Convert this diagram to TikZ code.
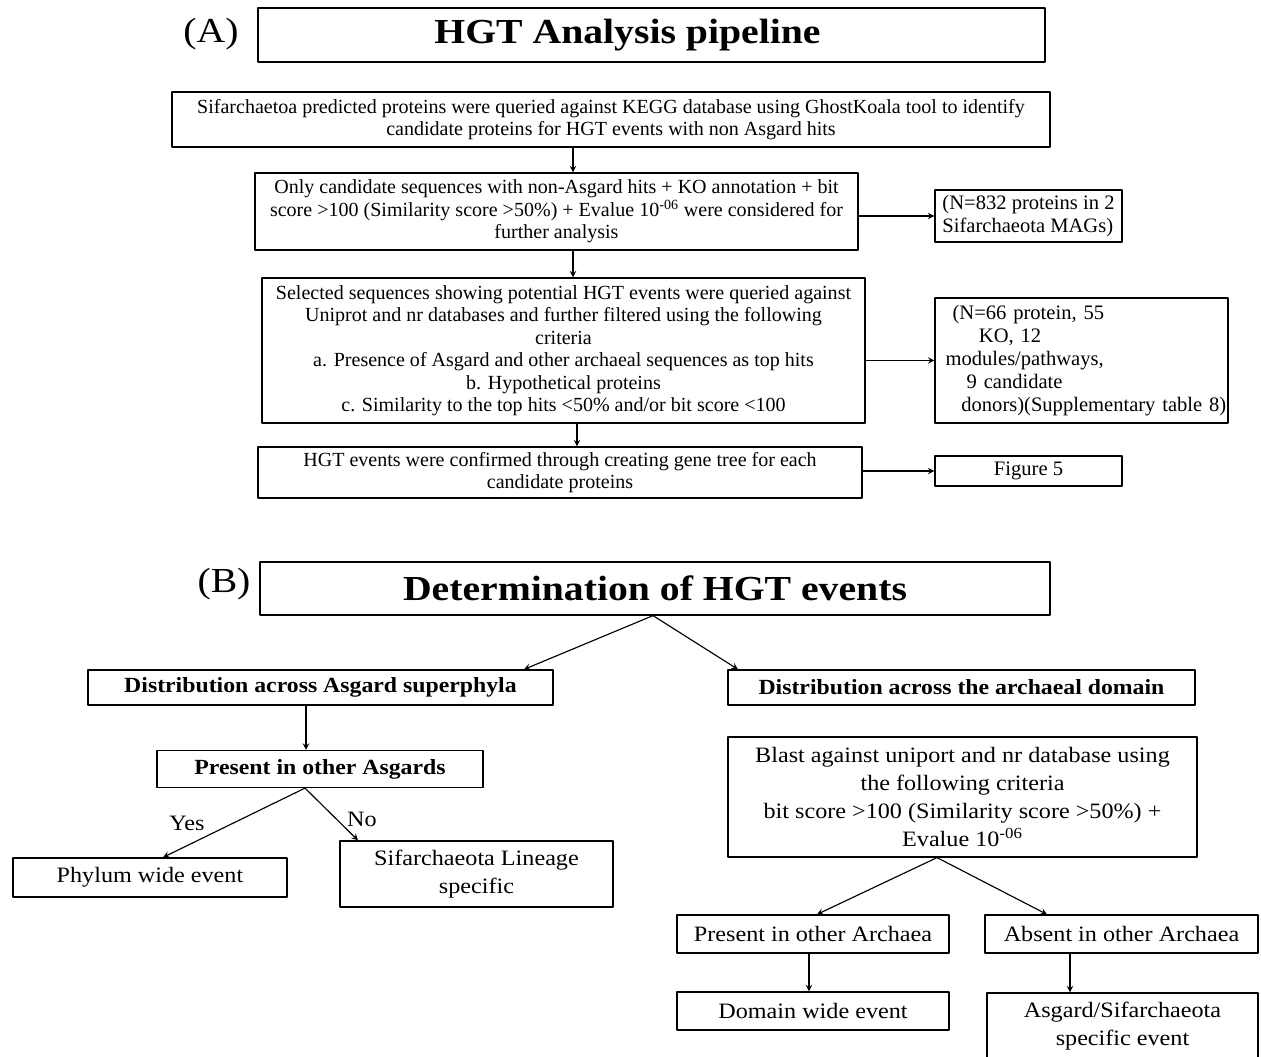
\documentclass[tikz,border=0pt]{standalone}
\usepackage{fontspec}
\setmainfont{Liberation Serif}
\newfontfamily\widefont[FakeStretch=1.1]{Liberation Serif}
\newfontfamily\titlefont[FakeStretch=1.13]{Liberation Serif}
\tikzset{
	box/.style={draw, line width=0.7pt, inner sep=2pt, align=center},
	smalltxt/.style={font=\fontsize{11.4}{12.8}\selectfont},
	sidetxt/.style={font=\fontsize{11.7}{13.2}\selectfont},
	bigtxt/.style={font=\widefont\fontsize{12.5}{15.9}\selectfont},
	boldtxt/.style={font=\widefont\bfseries\fontsize{12.3}{15}\selectfont},
	headtxt/.style={font=\titlefont\bfseries\fontsize{20}{24}\selectfont},
	link/.style={->, line width=0.65pt}
}
\begin{document}
\begin{tikzpicture}[x=0.02cm, y=-0.02cm, line join=round, >=stealth]
			\def\u{0.02cm}
			\useasboundingbox (0,0) rectangle (1261,1057);
			% (A) pipeline
			\node[font=\titlefont\fontsize{20}{24}\selectfont] (labA) at (211,34) {(A)};
			\node[box, headtxt, minimum width=787*\u, minimum height=54*\u] (titleA) at (651.5,35) {HGT Analysis pipeline\hspace*{0.96cm}};
			\node[box, smalltxt, minimum width=878*\u, minimum height=55*\u] (box1) at (611,119.5) {Sifarchaetoa predicted proteins were queried against KEGG database using GhostKoala tool to identify\\ candidate proteins for HGT events with non Asgard hits};
			\node[box, smalltxt, minimum width=603*\u, minimum height=77*\u] (box2) at (556.5,211.5) {Only candidate sequences with non-Asgard hits + KO annotation + bit\\ score >100 (Similarity score >50\%) + Evalue 10\textsuperscript{-06} were considered for\\ further analysis};
			\node[box, sidetxt, align=left, minimum width=187*\u, minimum height=52*\u] (n832) at (1028.5,216) {(N=832 proteins in 2\\ Sifarchaeota MAGs)};
			\node[box, smalltxt, minimum width=603*\u, minimum height=145*\u] (box3) at (563.5,350.5) {Selected sequences showing potential HGT events were queried against\\ Uniprot and nr databases and further filtered using the following\\ criteria\\ a. Presence of Asgard and other archaeal sequences as top hits\\ b. Hypothetical proteins\\ c. Similarity to the top hits <50\% and/or bit score <100};
			\node[box, sidetxt, align=left, inner xsep=0pt, text width=5.86cm, minimum height=125*\u] (n66) at (1081.5,360.5) {\hspace*{10pt}(N=66 protein, 55\\ \hspace*{25pt}KO, 12\\ \hspace*{6pt}modules/pathways,\\ \hspace*{18pt}9 candidate\\ \hspace*{15pt}donors)(Supplementary table 8)};
			\node[box, smalltxt, minimum width=604*\u, minimum height=51*\u] (box4) at (560,472.5) {HGT events were confirmed through creating gene tree for each\\ candidate proteins};
			\node[box, sidetxt, minimum width=187*\u, minimum height=30*\u] (fig5) at (1028.5,471) {Figure 5};
			\draw[link] (573,0 |- box1.south) -- (573,0 |- box2.north);
			\draw[link] (box2.east |- n832.west) -- (n832.west);
			\draw[link] (573,0 |- box2.south) -- (573,0 |- box3.north);
			\draw[link] (box3.east |- n66.west) -- (n66.west);
			\draw[link] (577,0 |- box3.south) -- (577,0 |- box4.north);
			\draw[link] (box4.east |- fig5.west) -- (fig5.west);
			% (B) determination
			\node[font=\titlefont\fontsize{20}{24}\selectfont] (labB) at (224,584) {(B)};
			\node[box, headtxt, minimum width=790*\u, minimum height=53*\u] (titleB) at (655,588.5) {Determination of HGT events};
			\node[box, boldtxt, minimum width=465*\u, minimum height=35*\u] (asgard) at (320.5,687.5) {Distribution across Asgard superphyla};
			\node[box, boldtxt, minimum width=467*\u, minimum height=35*\u] (archaeal) at (961.5,687.5) {Distribution across the archaeal domain};
			\node[box, boldtxt, minimum width=326*\u, minimum height=37*\u] (presAsg) at (320,769) {Present in other Asgards};
			\node[box, bigtxt, minimum width=274*\u, minimum height=39*\u] (phylum) at (150,877.5) {Phylum wide event};
			\node[box, bigtxt, minimum width=273*\u, minimum height=66*\u] (lineage) at (476.5,874) {Sifarchaeota Lineage\\ specific};
			\node[bigtxt] (yes) at (187,823) {Yes};
			\node[bigtxt] (no) at (362,819) {No};
			\node[box, bigtxt, minimum width=469*\u, minimum height=120*\u] (blast) at (962.5,797) {Blast against uniport and nr database using\\ the following criteria\\ bit score >100 (Similarity score >50\%) +\\ Evalue 10\textsuperscript{-06}};
			\node[box, bigtxt, minimum width=272*\u, minimum height=38*\u] (presArc) at (813,934) {Present in other Archaea};
			\node[box, bigtxt, minimum width=273*\u, minimum height=38*\u] (absArc) at (1121.5,934) {Absent in other Archaea};
			\node[box, bigtxt, minimum width=272*\u, minimum height=38*\u] (domain) at (813,1011) {Domain wide event};
			\node[box, bigtxt, minimum width=271*\u, minimum height=66*\u] (asgSpec) at (1122.5,1026) {Asgard/Sifarchaeota\\ specific event};
			\draw[link] (653,0 |- titleB.south) -- (524,0 |- asgard.north);
			\draw[link] (653,0 |- titleB.south) -- (738,0 |- archaeal.north);
			\draw[link] (306,0 |- asgard.south) -- (306,0 |- presAsg.north);
			\draw[link] (305,0 |- presAsg.south) -- (163,0 |- phylum.north);
			\draw[link] (305,0 |- presAsg.south) -- (358,0 |- lineage.north);
			\draw[link] (937,0 |- blast.south) -- (817,0 |- presArc.north);
			\draw[link] (937,0 |- blast.south) -- (1047,0 |- absArc.north);
			\draw[link] (809,0 |- presArc.south) -- (809,0 |- domain.north);
			\draw[link] (1070,0 |- absArc.south) -- (1070,0 |- asgSpec.north);
		\end{tikzpicture}
\end{document}
